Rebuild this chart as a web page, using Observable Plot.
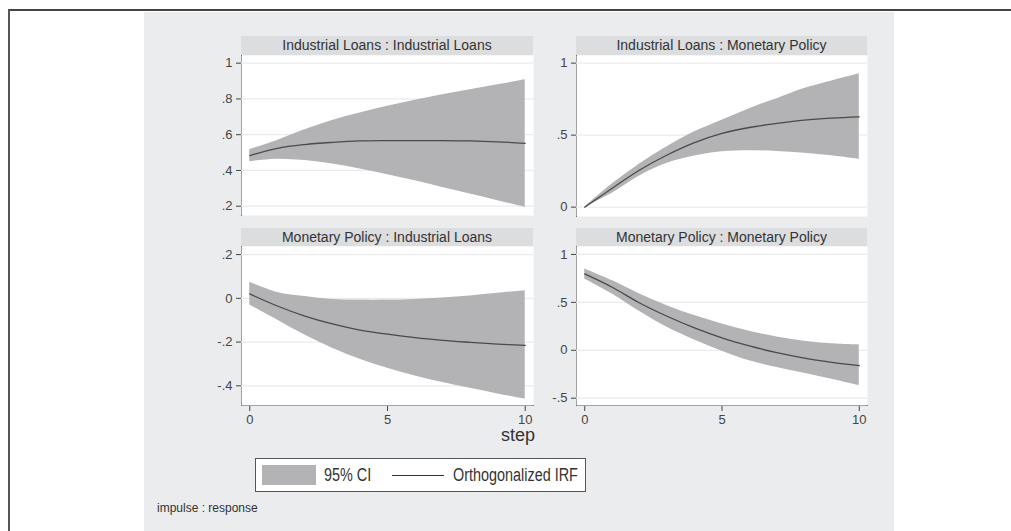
<!DOCTYPE html>
<html>
<head>
<meta charset="utf-8">
<script src="https://cdn.jsdelivr.net/npm/d3@7"></script>
<script src="https://cdn.jsdelivr.net/npm/@observablehq/plot@0.6"></script>
<style>
  html, body { margin: 0; padding: 0; background: #ffffff; width: 1011px; height: 531px; overflow: hidden; }
  body { position: relative; font-family: "Liberation Sans", Arial, sans-serif; }
  .abs { position: absolute; }
  .strip { position: absolute; background: #dcdddf; color: #333; font-size: 14px; text-align: center; line-height: 19px; white-space: nowrap; }
  .scx { display: inline-block; transform: scaleX(0.8); transform-origin: left center; white-space: nowrap; }
</style>
</head>
<body>
<div class="abs" style="left:8px;top:9px;width:1003px;height:2px;background:#444"></div>
<div class="abs" style="left:8px;top:9px;width:2px;height:522px;background:#555"></div>
<div class="abs" style="left:144px;top:12px;width:750px;height:519px;background:#ebecee"></div>
<div id="panels"></div>
<script>
// ---- data ----
const steps = [0, 1, 2, 3, 4, 5, 6, 7, 8, 9, 10];

const panelTitles = [
  "Industrial Loans : Industrial Loans",
  "Industrial Loans : Monetary Policy",
  "Monetary Policy : Industrial Loans",
  "Monetary Policy : Monetary Policy"
];

// Industrial Loans : Industrial Loans
const ilil_irf = [0.483, 0.524, 0.545, 0.557, 0.565, 0.567, 0.567, 0.567, 0.565, 0.560, 0.552];
const ilil_hi  = [0.517, 0.568, 0.628, 0.680, 0.722, 0.759, 0.793, 0.824, 0.852, 0.879, 0.907];
const ilil_lo  = [0.449, 0.462, 0.455, 0.436, 0.408, 0.376, 0.343, 0.305, 0.268, 0.231, 0.193];

// Industrial Loans : Monetary Policy
const ilmp_irf = [0.000, 0.131, 0.258, 0.362, 0.448, 0.512, 0.553, 0.581, 0.604, 0.618, 0.627];
const ilmp_hi  = [0.000, 0.161, 0.300, 0.419, 0.523, 0.604, 0.684, 0.753, 0.823, 0.876, 0.926];
const ilmp_lo  = [0.000, 0.097, 0.217, 0.304, 0.355, 0.385, 0.392, 0.387, 0.375, 0.357, 0.332];

// Monetary Policy : Industrial Loans
const mpil_irf = [0.020, -0.035, -0.081, -0.117, -0.145, -0.164, -0.180, -0.192, -0.201, -0.209, -0.215];
const mpil_hi  = [0.073, 0.027, 0.008, -0.005, -0.008, -0.008, -0.005, 0.002, 0.011, 0.023, 0.035];
const mpil_lo  = [-0.030, -0.099, -0.168, -0.228, -0.279, -0.320, -0.355, -0.385, -0.411, -0.437, -0.461];

// Monetary Policy : Monetary Policy
const mpmp_irf = [0.797, 0.658, 0.494, 0.355, 0.233, 0.129, 0.045, -0.025, -0.082, -0.125, -0.160];
const mpmp_hi  = [0.849, 0.727, 0.588, 0.466, 0.362, 0.275, 0.200, 0.140, 0.095, 0.068, 0.056];
const mpmp_lo  = [0.745, 0.588, 0.404, 0.240, 0.108, -0.010, -0.110, -0.180, -0.240, -0.302, -0.369];

const yTicks = [
  [0.2, 0.4, 0.6, 0.8, 1],
  [0, 0.5, 1],
  [-0.4, -0.2, 0, 0.2],
  [-0.5, 0, 0.5, 1]
];
const xTicks = [0, 5, 10];

const legendLabels = ["95% CI", "Orthogonalized IRF"];
const xTitle = "step";
const note = "impulse : response";

// ---- layout ----
const series = [
  [ilil_irf, ilil_lo, ilil_hi],
  [ilmp_irf, ilmp_lo, ilmp_hi],
  [mpil_irf, mpil_lo, mpil_hi],
  [mpmp_irf, mpmp_lo, mpmp_hi]
];
const yDomains = [[0.148, 1.043], [-0.065, 1.053], [-0.49, 0.237], [-0.576, 1.083]];
const geo = [
  {axisX: 241, plotW: 292, top: 55, h: 160, strip: 36, bottom: false},
  {axisX: 576, plotW: 291, top: 55, h: 161, strip: 36, bottom: false},
  {axisX: 241, plotW: 292, top: 246, h: 159, strip: 228, bottom: true},
  {axisX: 576, plotW: 291, top: 246, h: 159, strip: 228, bottom: true}
];
const fmt = d => d === 0 ? "0" : String(d).replace("0.", ".");

const container = document.getElementById("panels");
const mL = 60, mR = 10, mT = 10;

series.forEach(([irf, lo, hi], i) => {
  const g = geo[i];
  const data = steps.map((s, k) => ({step: s, irf: irf[k], lo: lo[k], hi: hi[k]}));
  const mB = g.bottom ? 30 : 4;
  const chart = Plot.plot({
    width: mL + g.plotW + mR,
    height: mT + g.h + mB,
    marginLeft: mL, marginRight: mR, marginTop: mT, marginBottom: mB,
    style: {background: "transparent", fontSize: "13px", fontFamily: "Liberation Sans, Arial, sans-serif", color: "#444", overflow: "visible"},
    x: {domain: [-0.3, 10.3], ticks: xTicks, tickSize: 6, tickPadding: 3, tickFormat: fmt, label: null, axis: g.bottom ? "bottom" : null, line: g.bottom},
    y: {domain: yDomains[i], ticks: yTicks[i], tickSize: 5, tickPadding: 4, tickFormat: fmt, label: null, line: true},
    marks: [
      Plot.frame({fill: "white", stroke: null}),
      Plot.ruleY(yTicks[i], {stroke: "#ebebeb", strokeWidth: 1.2}),
      Plot.areaY(data, {x: "step", y1: "lo", y2: "hi", fill: "#b3b3b5", curve: "catmull-rom"}),
      Plot.line(data, {x: "step", y: "irf", stroke: "#4a4a4a", strokeWidth: 1.3, curve: "catmull-rom"})
    ]
  });
  chart.style.position = "absolute";
  chart.style.left = (g.axisX - mL) + "px";
  chart.style.top = (g.top - mT) + "px";
  container.appendChild(chart);

  const s = document.createElement("div");
  s.className = "strip";
  s.style.left = g.axisX + "px";
  s.style.top = g.strip + "px";
  s.style.width = g.plotW + "px";
  s.style.height = (g.top - g.strip) + "px";
  s.style.lineHeight = (g.top - g.strip) + "px";
  s.textContent = panelTitles[i];
  container.appendChild(s);
});

// x title
const xt = document.createElement("div");
xt.className = "abs";
xt.style.cssText = "left:498px;top:425px;width:40px;text-align:center;font-size:18px;color:#333;";
xt.textContent = xTitle;
container.appendChild(xt);

// legend
const lg = document.createElement("div");
lg.className = "abs";
lg.style.cssText = "left:255px;top:458px;width:329px;height:32px;border:1px solid #555;background:#fff;";
lg.innerHTML =
  `<div class="abs" style="left:6px;top:6px;width:54px;height:20px;background:#b3b3b5"></div>` +
  `<div class="abs" style="left:68px;top:5px;font-size:18px;line-height:22px;color:#333"><span class="scx">${legendLabels[0]}</span></div>` +
  `<div class="abs" style="left:136px;top:16px;width:52px;height:1px;background:#333"></div>` +
  `<div class="abs" style="left:197px;top:5px;font-size:18px;line-height:22px;color:#333"><span class="scx">${legendLabels[1]}</span></div>`;
container.appendChild(lg);

// note
const nt = document.createElement("div");
nt.className = "abs";
nt.style.cssText = "left:157px;top:501px;font-size:12px;color:#333;";
nt.textContent = note;
container.appendChild(nt);
</script>
</body>
</html>
